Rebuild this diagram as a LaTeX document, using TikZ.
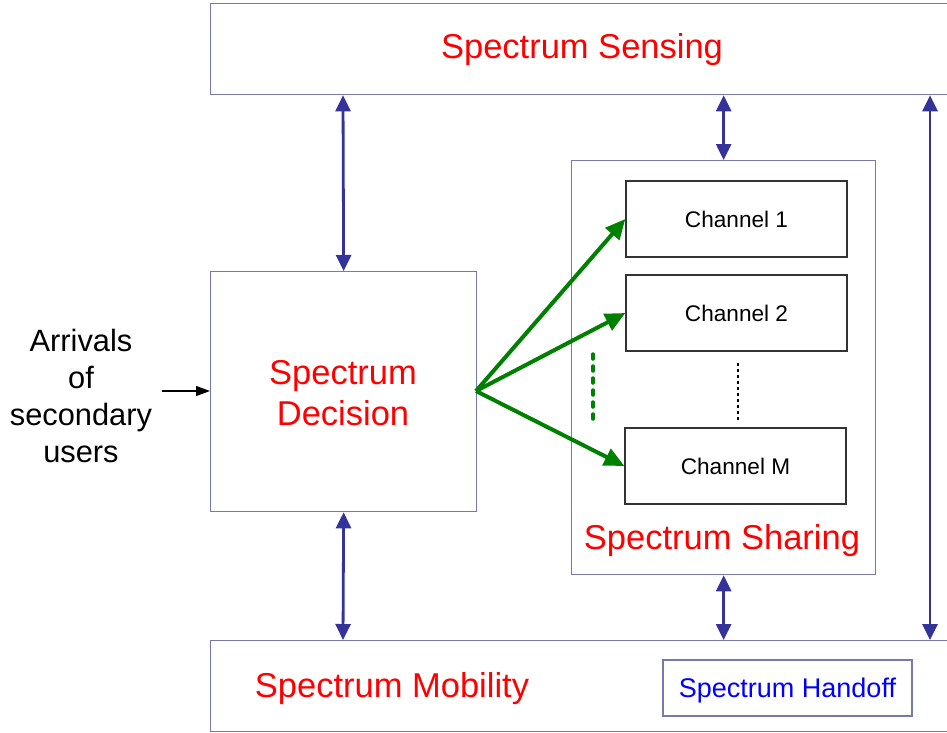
\documentclass[tikz,border=0pt]{standalone}
\usepackage{fontspec}
\setmainfont{Liberation Sans}
\usetikzlibrary{arrows.meta}
\definecolor{frame}{HTML}{7878B0}
\definecolor{link}{HTML}{333399}
\definecolor{gr}{HTML}{008000}
\tikzset{
  block/.style={draw=frame, line width=1.3pt, inner sep=0pt, anchor=north west},
  chan/.style={draw=black!80, line width=1.3pt, minimum width=221pt, minimum height=76pt, inner sep=0pt,
    font=\fontsize{22.6}{26}\selectfont},
  big/.style={text=red, font=\fontsize{34.5}{41}\selectfont, align=center},
  biarrow/.style={link, line width=2.8pt, {Triangle[length=16pt,width=15pt]}-{Triangle[length=16pt,width=15pt]}},
  pick/.style={gr, line width=4pt, -{Triangle[length=20pt,width=18pt]}},
}
\begin{document}
\begin{tikzpicture}[x=1pt,y=-1pt]
\useasboundingbox (0,0) rectangle (947,732);
\fill[white] (0,0) rectangle (947,732);

% main blocks
\node[block, minimum width=740pt, minimum height=91pt] (sense) at (210,3) {};
\node[block, minimum width=740pt, minimum height=91pt] (mob) at (210,640) {};
\node[block, minimum width=266pt, minimum height=240pt] (dec) at (210,271) {};
\node[block, minimum width=304pt, minimum height=414pt] (share) at (571,160) {};

% labels of the blocks
\node[big] (tsense) at (582,50) {Spectrum Sensing};
\node[big] (tdec) at (343,393) {Spectrum\\Decision};
\node[big] (tshare) at (722,541) {Spectrum Sharing};
\node[big] (tmob) at (392,689) {Spectrum Mobility};

% channels
\node[chan] (c1) at (736.5,219) {Channel 1};
\node[chan] (c2) at (736.5,313) {Channel 2};
\node[chan] (cm) at (735.5,466) {Channel M};
\draw[black, line width=1.6pt, dash pattern=on 3pt off 3pt] (738,363) -- (738,420);
\draw[gr, line width=3.5pt, line cap=round, dash pattern=on 5pt off 7pt] (593,354) -- (593,420);

% handoff
\node[draw=frame, line width=1.3pt, minimum width=249pt, minimum height=56pt, inner sep=0pt,
  text=blue, font=\fontsize{27}{32}\selectfont] (hand) at (787.5,688)
  {\raisebox{-3pt}[\height][\depth]{Spectrum Handoff}};

% incoming users
\node[align=center, font=\fontsize{30.8}{37}\selectfont, inner sep=0pt] (arr) at (81,396)
  {Arrivals\\of\\secondary\\users};
\coordinate (inp) at (162,391);
\draw[black, line width=1.2pt, -{Triangle[length=14pt,width=10pt]}] (inp) -- (dec.west |- inp);

% links between blocks
\coordinate (lx) at (343,0);
\coordinate (rx) at (930,0);
\draw[biarrow] (sense.south -| lx) -- (dec.north);
\draw[biarrow] (dec.south) -- (mob.north -| lx);
\draw[biarrow] (sense.south -| share.north) -- (share.north);
\draw[biarrow] (share.south) -- (mob.north -| share.south);
\draw[biarrow] (sense.south -| rx) -- (mob.north -| rx);

% channel selection
\coordinate (fan) at (476,391);
\draw[pick] (fan) -- (c1.west);
\draw[pick] (fan) -- (c2.west);
\draw[pick] (fan) -- (cm.west);
\end{tikzpicture}
\end{document}
